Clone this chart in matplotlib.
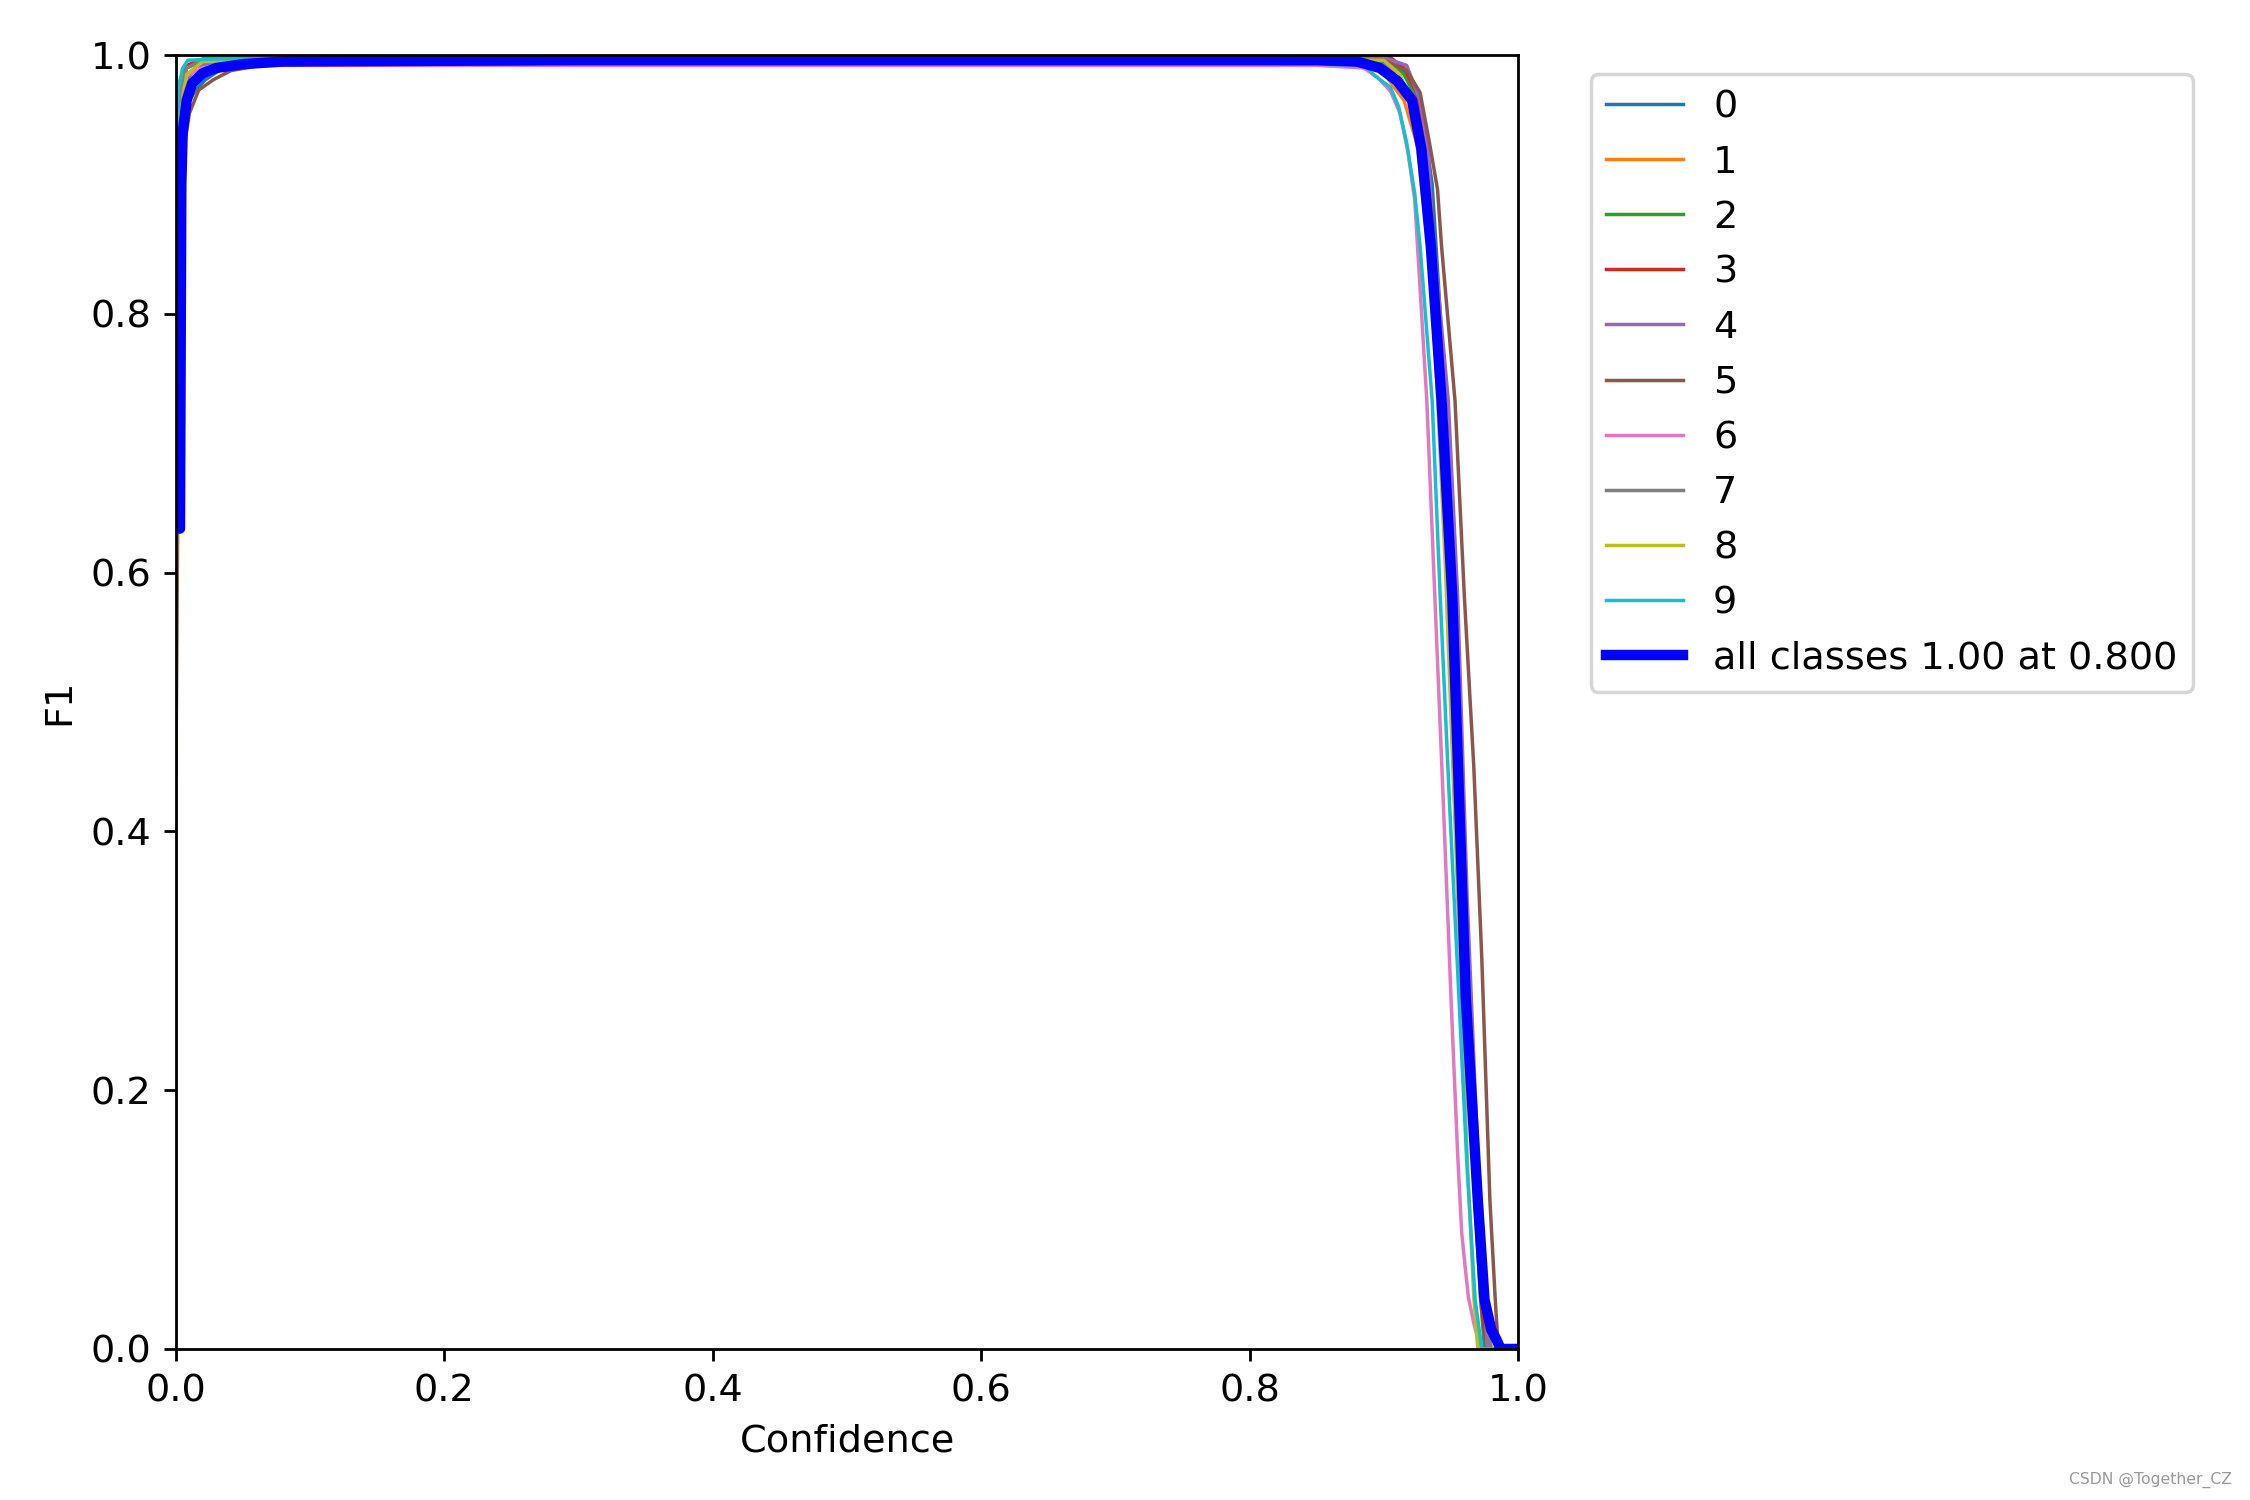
import matplotlib
matplotlib.use("Agg")
import matplotlib.pyplot as plt

matplotlib.rc('font', **{'size': 11})

# per-class F1 curves (confidence, F1)
x0 = [0.0, 0.004, 0.010, 0.0147, 0.022, 0.035, 0.06, 0.1, 0.5, 0.88, 0.905, 0.918, 0.928, 0.936, 0.942, 0.950, 0.958, 0.966, 0.972, 0.978, 0.980, 1.0]
y0 = [0.90, 0.95, 0.965, 0.973, 0.981, 0.990, 0.995, 0.997, 0.998, 0.998, 0.994, 0.985, 0.96, 0.90, 0.80, 0.62, 0.40, 0.20, 0.08, 0.01, 0.0, 0.0]

x1 = [0.0, 0.003, 0.008, 0.02, 0.5, 0.88, 0.898, 0.905, 0.915, 0.925, 0.933, 0.941, 0.950, 0.958, 0.966, 0.972, 0.976, 1.0]
y1 = [0.92, 0.97, 0.99, 0.996, 0.997, 0.997, 0.99, 0.979, 0.965, 0.93, 0.85, 0.73, 0.58, 0.35, 0.15, 0.04, 0.0, 0.0]

x2 = [0.0, 0.003, 0.008, 0.02, 0.5, 0.90, 0.915, 0.925, 0.932, 0.940, 0.949, 0.958, 0.966, 0.972, 0.975, 1.0]
y2 = [0.94, 0.975, 0.99, 0.996, 0.998, 0.996, 0.985, 0.965, 0.92, 0.80, 0.60, 0.35, 0.15, 0.04, 0.0, 0.0]

x3 = [0.0, 0.003, 0.008, 0.02, 0.5, 0.905, 0.915, 0.925, 0.933, 0.941, 0.950, 0.959, 0.967, 0.973, 0.977, 1.0]
y3 = [0.95, 0.98, 0.992, 0.997, 0.998, 0.998, 0.99, 0.97, 0.92, 0.80, 0.60, 0.35, 0.14, 0.03, 0.0, 0.0]

x4 = [0.0, 0.003, 0.008, 0.015, 0.03, 0.1, 0.5, 0.90, 0.917, 0.927, 0.933, 0.936, 0.948, 0.955, 0.962, 0.968, 0.973, 0.977, 1.0]
y4 = [0.85, 0.95, 0.98, 0.991, 0.995, 0.997, 0.998, 0.998, 0.992, 0.965, 0.927, 0.87, 0.733, 0.581, 0.35, 0.2, 0.08, 0.0, 0.0]

x5 = [0.0, 0.002, 0.004, 0.007, 0.010, 0.017, 0.028, 0.041, 0.063, 0.1, 0.5, 0.88, 0.90, 0.917, 0.927, 0.934, 0.940, 0.943, 0.953, 0.960, 0.967, 0.973, 0.974, 0.979, 0.983, 0.985, 0.986, 1.0]
y5 = [0.443, 0.75, 0.88, 0.935, 0.955, 0.973, 0.981, 0.988, 0.992, 0.995, 0.997, 0.997, 0.996, 0.988, 0.971, 0.932, 0.896, 0.852, 0.733, 0.581, 0.45, 0.301, 0.270, 0.115, 0.038, 0.005, 0.0, 0.0]

x6 = [0.0, 0.003, 0.008, 0.02, 0.05, 0.5, 0.85, 0.885, 0.895, 0.905, 0.912, 0.918, 0.923, 0.932, 0.938, 0.944, 0.950, 0.955, 0.958, 0.960, 0.963, 0.967, 0.972, 1.0]
y6 = [0.90, 0.96, 0.984, 0.990, 0.992, 0.992, 0.992, 0.990, 0.983, 0.972, 0.955, 0.925, 0.888, 0.733, 0.581, 0.43, 0.272, 0.15, 0.090, 0.069, 0.040, 0.02, 0.0, 0.0]

x7 = [0.0, 0.003, 0.008, 0.02, 0.5, 0.89, 0.905, 0.918, 0.927, 0.934, 0.942, 0.950, 0.960, 0.969, 0.975, 0.980, 1.0]
y7 = [0.93, 0.975, 0.99, 0.996, 0.998, 0.997, 0.99, 0.97, 0.93, 0.86, 0.74, 0.59, 0.29, 0.12, 0.03, 0.0, 0.0]

x8 = [0.0, 0.001, 0.003, 0.008, 0.02, 0.5, 0.90, 0.912, 0.922, 0.930, 0.938, 0.946, 0.955, 0.962, 0.967, 0.970, 1.0]
y8 = [0.46, 0.80, 0.95, 0.985, 0.995, 0.997, 0.996, 0.985, 0.96, 0.90, 0.78, 0.60, 0.35, 0.15, 0.04, 0.0, 0.0]

x9 = [0.0, 0.002, 0.005, 0.009, 0.03, 0.3, 0.7, 0.85, 0.887, 0.892, 0.905, 0.911, 0.917, 0.923, 0.927, 0.936, 0.942, 0.949, 0.956, 0.962, 0.968, 0.973, 1.0]
y9 = [0.93, 0.975, 0.99, 0.996, 0.997, 0.997, 0.996, 0.993, 0.992, 0.985, 0.975, 0.960, 0.932, 0.893, 0.852, 0.733, 0.581, 0.42, 0.27, 0.14, 0.038, 0.0, 0.0]

# mean over all classes
x_all = [0.002, 0.003, 0.004, 0.005, 0.008, 0.012, 0.02, 0.03, 0.05, 0.08, 0.3, 0.5, 0.7, 0.85, 0.88, 0.897, 0.910, 0.921, 0.928, 0.935, 0.943, 0.951, 0.961, 0.970, 0.975, 0.980, 0.984, 0.987, 1.0]
y_all = [0.634, 0.634, 0.90, 0.94, 0.965, 0.978, 0.986, 0.990, 0.993, 0.995, 0.996, 0.996, 0.996, 0.996, 0.995, 0.990, 0.980, 0.965, 0.927, 0.852, 0.733, 0.581, 0.272, 0.115, 0.038, 0.015, 0.007, 0.0, 0.0]

class_names = ['0', '1', '2', '3', '4', '5', '6', '7', '8', '9']
xs = [x0, x1, x2, x3, x4, x5, x6, x7, x8, x9]
ys = [y0, y1, y2, y3, y4, y5, y6, y7, y8, y9]

fig = plt.figure(figsize=(9, 6))
ax = fig.add_axes([0.0782, 0.1007, 0.5965, 0.8626])

for i in range(len(class_names)):
    ax.plot(xs[i], ys[i], linewidth=1, label=class_names[i])

ax.plot(x_all, y_all, linewidth=3, color='blue', label='all classes 1.00 at 0.800')

ax.set_xlabel('Confidence')
ax.set_ylabel('F1')
ax.set_xlim(0, 1)
ax.set_ylim(0, 1)
ax.legend(bbox_to_anchor=(1.04, 1), loc="upper left")

fig.text(0.992, 0.008, 'CSDN @Together_CZ', ha='right', va='bottom', fontsize=4.5, color='#999999')

fig.savefig('out.png', dpi=250)
